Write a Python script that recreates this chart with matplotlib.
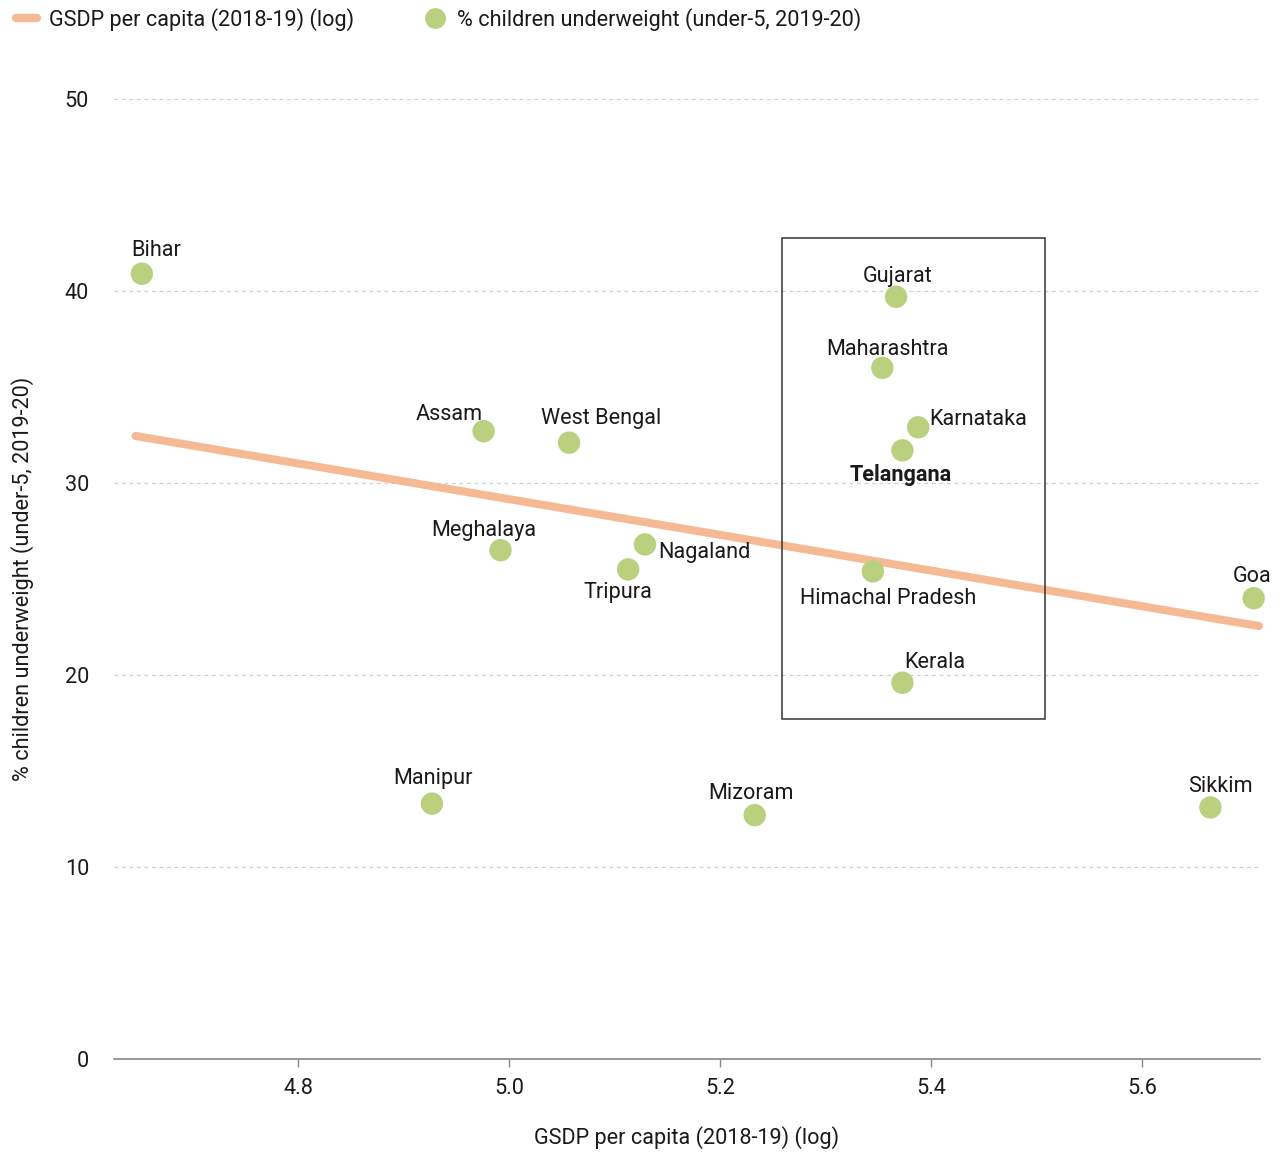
import matplotlib
matplotlib.use("Agg")
import matplotlib.pyplot as plt
from matplotlib.lines import Line2D
from matplotlib.patches import Rectangle

plt.rcParams['font.family'] = ['Roboto', 'DejaVu Sans']

states = ["Bihar", "Assam", "West Bengal", "Meghalaya", "Tripura", "Nagaland",
          "Manipur", "Mizoram", "Gujarat", "Maharashtra", "Karnataka", "Telangana",
          "Himachal Pradesh", "Kerala", "Goa", "Sikkim"]
gsdp_log = [4.652, 4.976, 5.057, 4.992, 5.113, 5.129,
            4.927, 5.233, 5.367, 5.354, 5.388, 5.373,
            5.345, 5.373, 5.706, 5.665]
underweight = [40.9, 32.7, 32.1, 26.5, 25.5, 26.8,
               13.3, 12.7, 39.7, 36.0, 32.9, 31.7,
               25.4, 19.6, 24.0, 13.1]
trend_x = [4.646, 5.711]
trend_y = [32.45, 22.55]
box_x = [5.259, 5.508]
box_y = [17.7, 42.76]
yticks = [0, 10, 20, 30, 40, 50]
xticks = [4.8, 5.0, 5.2, 5.4, 5.6]

# label offsets in pixels (dx, dy up), ha
offsets = {
    "Bihar": (14, 26, 'center'),
    "Assam": (-34, 20, 'center'),
    "West Bengal": (32, 27, 'center'),
    "Meghalaya": (-17, 23, 'center'),
    "Tripura": (-10, -20, 'center'),
    "Nagaland": (13, -5, 'left'),
    "Manipur": (1, 28, 'center'),
    "Mizoram": (-4, 25, 'center'),
    "Gujarat": (2, 23, 'center'),
    "Maharashtra": (5, 21, 'center'),
    "Karnataka": (11, 11, 'left'),
    "Telangana": (-2, -22, 'center'),
    "Himachal Pradesh": (15, -24, 'center'),
    "Kerala": (32, 23, 'center'),
    "Goa": (-2, 25, 'center'),
    "Sikkim": (10, 24, 'center'),
}

GREEN = '#bad07f'
ORANGE = '#f5b994'
FS = 15.6

fig = plt.figure(figsize=(12.84, 11.53), dpi=100)
ax = fig.add_axes([114/1284, 1 - 1059/1153, (1260-114)/1284, (1059-99)/1153])

ax.set_xlim(4.6256, 5.712)
ax.set_ylim(0, 50)

for t in yticks[1:]:
    ax.axhline(t, color='#d0d0d0', lw=0.9, ls=(0, (3, 3)), zorder=0)

ax.plot(trend_x, trend_y, color=ORANGE, lw=5.8, solid_capstyle='round', zorder=2,
        clip_on=False)
ax.scatter(gsdp_log, underweight, s=260, color=GREEN, edgecolors='none', zorder=3,
           clip_on=False)

ax.add_patch(Rectangle((box_x[0], box_y[0]), box_x[1]-box_x[0], box_y[1]-box_y[0],
                       fill=False, edgecolor='#333333', lw=1.1, zorder=4))

for name, x, y in zip(states, gsdp_log, underweight):
    dx, dy, ha = offsets[name]
    ax.annotate(name, (x, y), xytext=(dx*0.72, (dy-3)*0.72), textcoords='offset points',
                ha=ha, va='center', fontsize=FS, color='#1a1a1a',
                fontweight='bold' if name == "Telangana" else 'normal', zorder=5)

for s in ['top', 'right', 'left']:
    ax.spines[s].set_visible(False)
ax.spines['bottom'].set_color('#888888')
ax.spines['bottom'].set_linewidth(1.2)

ax.set_yticks(yticks)
ax.set_yticklabels([str(t) for t in yticks])
ax.set_xticks(xticks)
ax.set_xticklabels([f"{t:.1f}" for t in xticks])
ax.tick_params(axis='y', length=0, pad=18, labelsize=FS, labelcolor='#1a1a1a')
ax.tick_params(axis='x', length=6, width=1, color='#888888', pad=8, labelsize=FS, labelcolor='#1a1a1a')

ax.set_xlabel("GSDP per capita (2018-19) (log)", fontsize=FS, color='#1a1a1a', labelpad=19)
ax.set_ylabel("% children underweight (under-5, 2019-20)", fontsize=FS, color='#1a1a1a', labelpad=22)

handles = [Line2D([0], [0], color=ORANGE, lw=6, solid_capstyle='round'),
           Line2D([0], [0], marker='o', color='none', markerfacecolor=GREEN,
                  markeredgecolor='none', markersize=15)]
fig.legend(handles, ["GSDP per capita (2018-19) (log)", "% children underweight (under-5, 2019-20)"],
           loc='upper left', bbox_to_anchor=(-0.003, 1.01), ncol=2, frameon=False,
           fontsize=FS, handlelength=1.0, handletextpad=0.55, columnspacing=3.2,
           labelcolor='#1a1a1a')

fig.savefig("out.png", dpi=100, facecolor='white')
